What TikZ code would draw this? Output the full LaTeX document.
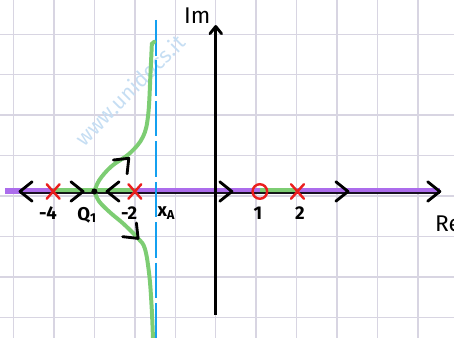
\documentclass[tikz,border=0pt]{standalone}
\usepackage{fontspec}
\setmainfont{Fira Sans}
\usetikzlibrary{arrows.meta,calc,positioning}
\definecolor{locusgreen}{RGB}{125,205,115}
\definecolor{axispurple}{RGB}{172,108,236}
\definecolor{asymblue}{RGB}{20,160,240}
\definecolor{gridgray}{RGB}{216,213,226}
\definecolor{markred}{RGB}{235,30,30}
\definecolor{wmblue}{RGB}{198,222,243}
\newcommand{\chev}[3]{\begin{scope}[shift={#1},rotate=#2,scale=#3]
  \draw[line width=2pt,line cap=round,line join=round] (-0.3,0.24)--(0,0)--(-0.3,-0.24);\end{scope}}
\newcommand{\pole}[1]{\begin{scope}[shift={#1}]
  \draw[markred,line width=1.7pt,line cap=round] (-0.16,0.18)--(0.16,-0.18) (-0.16,-0.18)--(0.16,0.18);\end{scope}}

\begin{document}
\begin{tikzpicture}[>=Stealth,font=\bfseries\fontsize{13}{15}\selectfont]
\useasboundingbox (-5.334,-3.622) rectangle (5.890,4.734);
\clip (-5.334,-3.622) rectangle (5.890,4.734);
\foreach \x in {-5,...,5} \draw[gridgray,line width=1pt] (\x,-3.7)--(\x,4.8);
\foreach \y in {-3,...,4} \draw[gridgray,line width=1pt] (-5.4,\y-0.114)--(5.9,\y-0.114);
\node[wmblue,rotate=45,font=\fontsize{15}{17}\selectfont] (wm) at (-2.12,2.51) {www.unidocs.it};
\coordinate (Q1) at (-3.0,0);
\coordinate (xA) at (-1.477,0);
% asse reale
\draw[axispurple,line width=4pt] (-5.21,0.02)--(5.55,0.02);
\draw[locusgreen,line width=3.5pt] (-4.02,0.02)--(-2.0,0.02) (1.09,0.02)--(2.02,0.02);
\draw[line width=1.5pt,opacity=0.85] (-4.84,-0.03)--(5.54,-0.03);
% asse immaginario e asintoto
\draw[line width=2pt] (0,-3.05)--(0,4.06);
\chev{(0,4.08)}{90}{0.6}
\draw[asymblue,line width=2pt,dash pattern=on 0.88cm off 0.12cm] (xA|-0,4.24)--(xA|-0,-3.7);
% rami del luogo
\draw[locusgreen,line width=2.8pt,line cap=round] plot[smooth,tension=0.6] coordinates
  {(Q1) (-2.88,0.28) (-2.58,0.62) (-2.12,0.95) (-1.8,1.35) (-1.67,1.9) (-1.61,3.0) (-1.58,3.65)} -- (-1.52,3.7);
\draw[locusgreen,line width=2.8pt,line cap=round] plot[smooth,tension=0.6] coordinates
  {(Q1) (-2.88,-0.25) (-2.6,-0.53) (-2.28,-0.8) (-1.92,-1.16) (-1.75,-1.42) (-1.64,-2.1) (-1.58,-2.95) (-1.55,-3.7)};
\fill (Q1) circle (0.075);
\chev{(-4.84,0)}{180}{1}
\chev{(-3.28,0)}{0}{1}
\chev{(-2.69,0)}{180}{1}
\chev{(0.40,0)}{0}{1}
\chev{(3.27,0)}{0}{1}
\chev{(5.54,0)}{0}{1}
\chev{(-2.15,0.82)}{45}{1}
\chev{(-1.92,-1.16)}{-45}{1}
\pole{(-4.02,0)}
\pole{(-2.0,0)}
\pole{(2.02,0)}
\draw[markred,line width=1.7pt] (1.09,0) circle (0.18);
\node (lm4) at (-4.15,-0.53) {-4};
\node (lq1) at (-3.18,-0.58) {Q\textsubscript{1}};
\node (lm2) at (-2.14,-0.53) {-2};
\node (lxa) at (-1.22,-0.53) {x\textsubscript{A}};
\node (lp1) at (1.04,-0.53) {1};
\node (lp2) at (2.08,-0.53) {2};
\node[anchor=west,font=\fontsize{16}{19}\selectfont] (lre) at (5.30,-0.8) {Re};
\node[font=\fontsize{16}{19}\selectfont] (lim) at (-0.46,4.34) {Im};
\end{tikzpicture}
\end{document}
